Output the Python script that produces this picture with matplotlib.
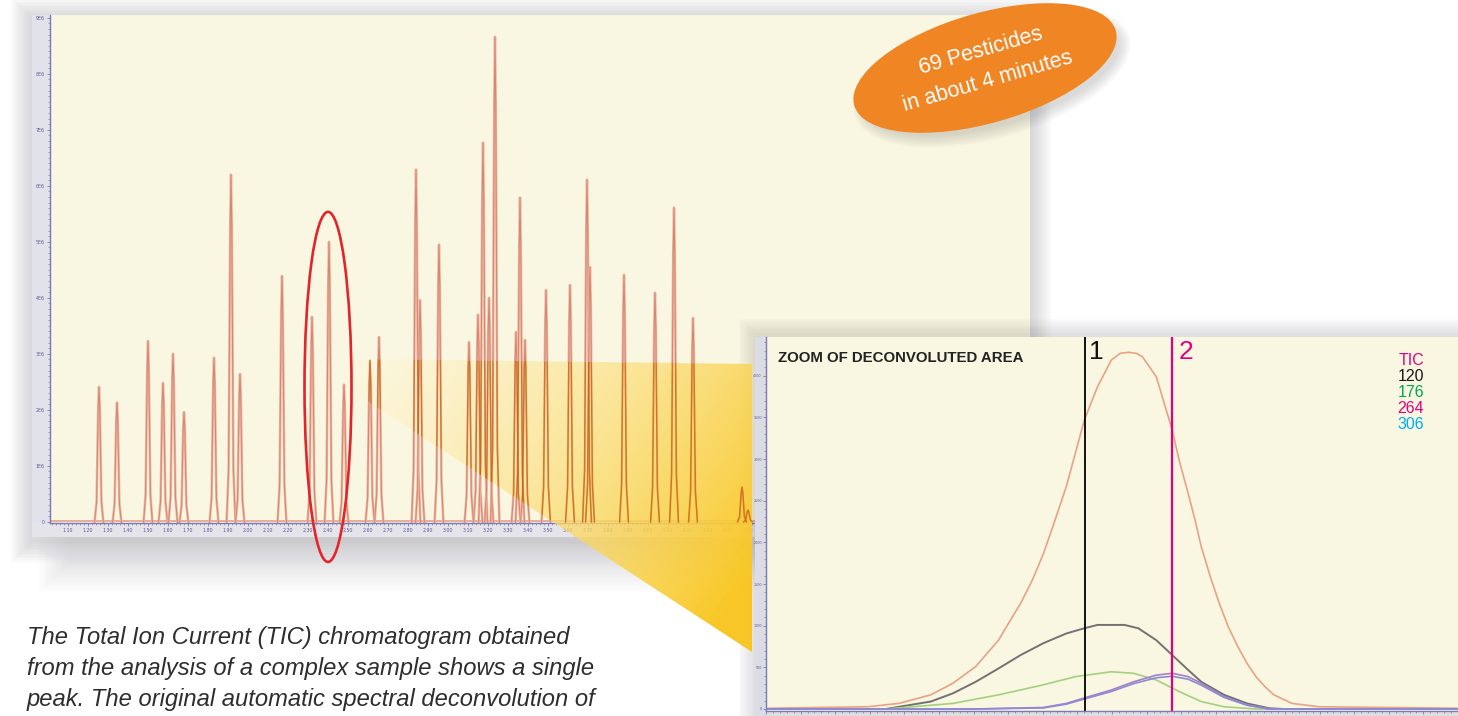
import numpy as np
import matplotlib
matplotlib.use('Agg')
import matplotlib.pyplot as plt
from matplotlib.patches import Ellipse, Polygon, Rectangle
from matplotlib.ticker import AutoMinorLocator, MultipleLocator, FixedLocator, FuncFormatter
from matplotlib import font_manager

# TIC chromatogram: retention time (min) and apex height (x1E6 counts)
peak_rt = [1.255, 1.345, 1.50, 1.575, 1.625, 1.68, 1.83, 1.915, 1.96, 2.17,
           2.32, 2.405, 2.48, 2.61, 2.655, 2.84, 2.86, 2.955, 3.105, 3.15,
           3.175, 3.205, 3.235, 3.34, 3.36, 3.385, 3.49, 3.61, 3.695, 3.71,
           3.88, 4.035, 4.13, 4.225, 4.47, 4.50]
peak_height = [2.41, 2.13, 3.23, 2.48, 3.00, 1.96, 2.93, 6.20, 2.64, 4.39,
               3.66, 5.00, 2.45, 2.88, 3.30, 6.29, 3.96, 4.95, 3.21, 3.70,
               6.77, 4.00, 8.66, 3.39, 5.79, 3.25, 4.14, 4.23, 6.11, 4.55,
               4.41, 4.09, 5.61, 3.64, 0.62, 0.21]
circled_rt, circled_h = 2.40, 2.41

# zoom of the deconvoluted area (time in % of window, relative response)
tic_t = [0.3, 14.7, 19.2, 23.8, 27.0, 30.3, 33.6, 35.2, 36.8, 38.5, 40.1, 41.7, 43.4, 44.7,
         46.0, 47.9, 48.9, 49.9, 51.2, 52.4, 53.5, 54.4, 56.4, 57.4, 58.7, 59.7, 61.0, 62.0,
         62.9, 64.2, 65.5, 66.8, 68.2, 69.5, 70.8, 72.1, 73.4, 76.0, 79.9, 100.0]
tic_y = [0.2, 0.6, 1.5, 3.8, 6.9, 11.4, 18.5, 23.5, 28.4, 34.7, 41.8, 50.4, 59.8, 68.7,
         77.7, 86.6, 90.2, 93.8, 95.6, 95.9, 95.6, 94.7, 89.3, 83.1, 75.0, 66.9, 58.0, 50.8,
         43.6, 35.6, 28.4, 22.1, 16.7, 12.3, 8.7, 6.0, 3.8, 1.5, 0.6, 0.2]
ion120_t = [0.0, 17.3, 23.8, 27.0, 30.3, 33.6, 36.8, 40.1, 43.4, 46.0, 47.9, 51.8, 53.8,
            56.4, 58.7, 61.0, 62.9, 66.2, 69.5, 72.7, 74.7, 100.0]
ion120_y = [0.0, 0.0, 2.0, 4.2, 7.3, 10.9, 14.5, 17.7, 20.3, 21.7, 22.6, 22.6, 21.7,
            18.5, 14.5, 10.5, 7.3, 3.8, 1.5, 0.2, 0.0, 0.0]
ion176_t = [0.0, 17.3, 27.0, 33.6, 40.1, 44.7, 49.9, 53.1, 56.4, 59.7, 62.9, 66.2, 70.8, 100.0]
ion176_y = [0.0, 0.0, 1.5, 3.8, 6.5, 8.7, 10.0, 9.6, 7.8, 4.7, 2.0, 0.6, 0.0, 0.0]
ion264_t = [0.0, 30.3, 40.1, 43.4, 46.6, 49.9, 53.1, 56.4, 58.7, 61.0, 62.9, 66.2, 69.5, 72.7, 100.0]
ion264_y = [0.0, 0.0, 0.4, 1.5, 3.3, 5.1, 7.3, 9.1, 9.6, 8.7, 6.9, 3.3, 1.1, 0.0, 0.0]
ion306_y = [0.0, 0.0, 0.3, 1.3, 3.0, 4.7, 6.8, 8.4, 8.8, 8.0, 6.4, 3.1, 1.0, 0.0, 0.0]
marker_1 = 46.1
marker_2 = 58.7
legend_labels = ['TIC', '120', '176', '264', '306']
legend_colors = ['#e4007c', '#1a1a1a', '#00a651', '#e4007c', '#00aeef']

badge_lines = ['69 Pesticides', 'in about 4 minutes']
caption_lines = ['The Total Ion Current (TIC) chromatogram obtained',
                 'from the analysis of a complex sample shows a single',
                 'peak. The original automatic spectral deconvolution of']


def has_font(name):
    try:
        font_manager.findfont(name, fallback_to_default=False)
        return True
    except ValueError:
        return False

narrow = 'Liberation Sans Narrow' if has_font('Liberation Sans Narrow') else 'Liberation Sans'

W, H = 1458, 716
CREAM = '#f9f6e1'
AXC = '#7a7ab8'
fig = plt.figure(figsize=(W / 100, H / 100), dpi=100)
fig.patch.set_facecolor('white')


def soft_shadow(a, x0, y0, x1, y1, spread=20, dx=0, dy=6, strength=0.3, z=0, n=14):
    for i in range(n):
        g = spread * (i + 1) / n
        a.add_patch(Rectangle((x0 - g + dx, y0 - g + dy), x1 - x0 + 2 * g, y1 - y0 + 2 * g,
                              facecolor='#8e8e96', edgecolor='none', alpha=strength / n, zorder=z))


# background layer (pixel coords)
bg = fig.add_axes([0, 0, 1, 1], zorder=0)
soft_shadow(bg, 32, 15, 1030, 537, spread=22, dy=4, strength=0.33)
soft_shadow(bg, 70, 530, 1000, 552, spread=32, dy=8, strength=0.16)
bg.add_patch(Rectangle((32, 15), 998, 522, facecolor=CREAM, edgecolor='none', zorder=1))
bg.add_patch(Rectangle((32, 15), 18, 522, facecolor='#e2e2ea', edgecolor='none', zorder=2))
bg.add_patch(Rectangle((32, 523), 998, 14, facecolor='#e4e4ea', edgecolor='none', zorder=2))
bg.set_xlim(0, W)
bg.set_ylim(H, 0)
bg.axis('off')

# main chromatogram
ax = fig.add_axes([50 / W, (H - 523) / H, 980 / W, 508 / H], zorder=1)
ax.set_facecolor(CREAM)
shape_dx = np.array([-0.022, -0.012, -0.004, 0.0, 0.004, 0.012, 0.022])
shape_fy = np.array([0.0, 0.15, 0.85, 1.0, 0.85, 0.15, 0.0])
ax.axhline(0.02, color='#e3a892', lw=1.3, zorder=2)
for rt, h in zip(peak_rt, peak_height):
    ax.plot(rt + shape_dx, h * shape_fy, color='#eab5a2', lw=1.8, zorder=2)
    ax.plot(rt + shape_dx, h * shape_fy, color='#d9846e', lw=0.7, zorder=2)
ax.add_patch(Ellipse((circled_rt, circled_h), 0.235, 6.25, fill=False, edgecolor='#e3242b',
                     lw=1.9, clip_on=False, zorder=6))
ax.set_xlim(1.01, 5.91)
ax.set_ylim(-0.02, 9.05)
ax.xaxis.set_major_locator(MultipleLocator(0.1))
ax.xaxis.set_minor_locator(AutoMinorLocator(5))
ax.yaxis.set_major_locator(MultipleLocator(1))
ax.yaxis.set_minor_locator(AutoMinorLocator(10))
ax.xaxis.set_major_formatter(FuncFormatter(lambda v, p: '{:.2f}'.format(v)))
ax.yaxis.set_major_formatter(FuncFormatter(lambda v, p: '0' if v == 0 else '{:.0f}E6'.format(v)))
ax.tick_params(colors=AXC, labelsize=3.4, length=2.5, width=0.6, pad=1.2, labelcolor='#5a5a9a')
ax.tick_params(which='minor', length=1.5, width=0.5, colors=AXC)
for s in ['top', 'right']:
    ax.spines[s].set_visible(False)
for s in ['left', 'bottom']:
    ax.spines[s].set_color(AXC)
    ax.spines[s].set_linewidth(1.0)

# overlay layer: connector, badge, shadows
ov = fig.add_axes([0, 0, 1, 1], zorder=2)
soft_shadow(ov, 755, 337, W + 40, H + 40, spread=16, dy=-2, strength=0.3, z=0.5)

poly = Polygon([(355, 359), (752, 364), (752, 652), (355, 393)], closed=True,
               facecolor='none', edgecolor='none')
ov.add_patch(poly)
GX, GY = np.meshgrid(np.linspace(0, 1, 240), np.linspace(0, 1, 160))
t = np.clip(0.72 * GX + 0.38 * GY, 0, 1)
c0 = np.array([1.0, 0.975, 0.87])
c1 = np.array([0.975, 0.78, 0.13])
rgba = np.zeros((160, 240, 4))
rgba[..., :3] = c0 + (c1 - c0) * t[..., None]
rgba[..., 3] = 0.45 + 0.53 * t
im = ov.imshow(rgba, extent=(355, 752, 652, 359), origin='upper', zorder=1,
               interpolation='bilinear', aspect='auto')
im.set_clip_path(poly)
for rt, h in zip(peak_rt, peak_height):
    ln, = ov.plot(rt + shape_dx, h * shape_fy, color='#c8601e', lw=1.1, alpha=0.8,
                  transform=ax.transData, zorder=2)
    ln.set_clip_path(poly)

ov.add_patch(Rectangle((755, 337), 11, H - 337, facecolor='#dcdce4', edgecolor='none', zorder=3))

# orange badge
for i in range(8):
    ov.add_patch(Ellipse((992, 76), 262 + i * 3.5, 100 + i * 3.5, angle=-16, facecolor='#6a6a70',
                         edgecolor='none', alpha=0.03, zorder=3))
ov.add_patch(Ellipse((985, 68), 272, 110, angle=-16, facecolor='#f08524', edgecolor='none', zorder=4))
ov.text(981, 51, badge_lines[0], rotation=16, rotation_mode='anchor', ha='center', va='center',
        color='white', fontsize=15.5, family=['Liberation Sans', 'DejaVu Sans'], zorder=5)
ov.text(988, 82, badge_lines[1], rotation=16, rotation_mode='anchor', ha='center', va='center',
        color='white', fontsize=15.5, family=['Liberation Sans', 'DejaVu Sans'], zorder=5)

# caption
cap_texts = []
for i, line in enumerate(caption_lines):
    cap_texts.append(ov.text(27, 644 + 31 * i, line, ha='left', va='baseline', style='italic',
                             color='#2e2e2e', fontsize=17, family=[narrow, 'DejaVu Sans'], zorder=5))
ov.set_xlim(0, W)
ov.set_ylim(H, 0)
ov.axis('off')

# inset: zoom of deconvoluted area
ax2 = fig.add_axes([766 / W, (H - 711) / H, (W - 766) / W, 374 / H], zorder=3)
ax2.set_facecolor(CREAM)
ax2.plot(tic_t, tic_y, color='#e8a286', lw=1.2)
ax2.plot(ion120_t, ion120_y, color='#727272', lw=1.4)
ax2.plot(ion176_t, ion176_y, color='#a3d07f', lw=1.2)
ax2.plot(ion264_t, ion264_y, color='#a57fc8', lw=1.2)
ax2.plot(ion264_t, ion306_y, color='#8c8ad6', lw=1.2)
ax2.axvline(marker_1, color='#111111', lw=1.4)
ax2.axvline(marker_2, color='#e4007c', lw=1.6)
ax2.text(marker_1 + 0.6, 99.2, '1', ha='left', va='top', fontsize=19, color='#111111',
         family=[narrow, 'DejaVu Sans'])
ax2.text(marker_2 + 0.9, 99.2, '2', ha='left', va='top', fontsize=19, color='#e4007c',
         family=[narrow, 'DejaVu Sans'])
ax2.text(1.7, 94.4, 'ZOOM OF DECONVOLUTED AREA', ha='left', va='center', fontsize=10.8,
         fontweight='bold', color='#222222', family=['Liberation Sans', 'DejaVu Sans'])
for i, (lab, col) in enumerate(zip(legend_labels, legend_colors)):
    ax2.text(95.1, 93.8 - 4.35 * i, lab, ha='right', va='center', fontsize=11.5, color=col,
             family=['Liberation Sans', 'DejaVu Sans'])
ax2.set_xlim(0, 100)
ax2.set_ylim(-0.54, 100)
ax2.yaxis.set_major_locator(FixedLocator(np.arange(0, 100, 11.2)))
ax2.yaxis.set_minor_locator(AutoMinorLocator(5))
ax2.yaxis.set_major_formatter(FuncFormatter(lambda v, p: '{:.0f}'.format(v / 11.2 * 500)))
ax2.xaxis.set_major_locator(MultipleLocator(5))
ax2.xaxis.set_minor_locator(AutoMinorLocator(5))
ax2.tick_params(colors=AXC, labelsize=2.4, length=2.2, width=0.6, pad=0.8, labelcolor='#5a5a9a',
                labelbottom=False)
ax2.tick_params(which='minor', length=1.3, width=0.5, colors=AXC)
for s in ['top', 'right']:
    ax2.spines[s].set_visible(False)
for s in ['left', 'bottom']:
    ax2.spines[s].set_color(AXC)
    ax2.spines[s].set_linewidth(1.0)

# fit caption width to the column
fig.canvas.draw()
r = fig.canvas.get_renderer()
wmax = max(tx.get_window_extent(r).width for tx in cap_texts)
for tx in cap_texts:
    tx.set_fontsize(17 * 570 / wmax)

fig.savefig('out.png', dpi=100, facecolor='white')
